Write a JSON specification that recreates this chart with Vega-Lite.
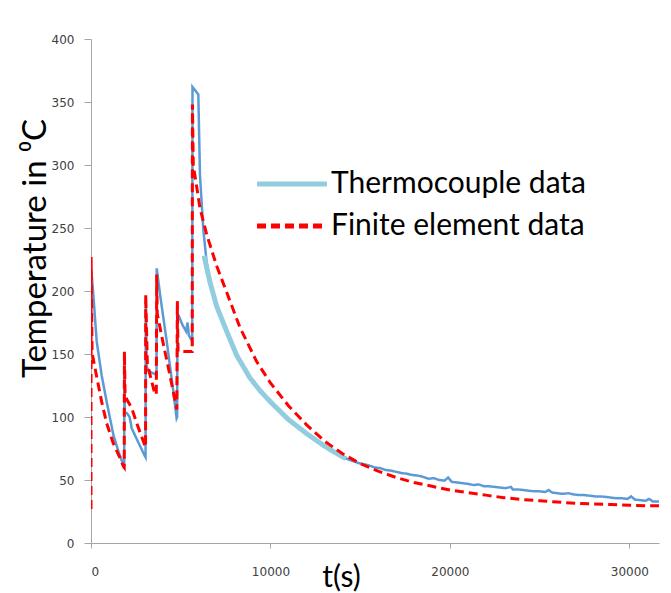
{
  "$schema": "https://vega.github.io/schema/vega-lite/v6.json",
  "width": 568,
  "height": 504,
  "autosize": {"type": "none"},
  "padding": {"left": 91, "top": 39, "right": 12, "bottom": 50},
  "background": "white",
  "config": {"view": {"stroke": null}},
  "data": {"values": [
    {"s":"raw","t":0,"T":220},{"s":"raw","t":130,"T":197},{"s":"raw","t":317,"T":160},{"s":"raw","t":595,"T":133},{"s":"raw","t":874,"T":112},{"s":"raw","t":1245,"T":86},{"s":"raw","t":1520,"T":73},{"s":"raw","t":1800,"T":62},{"s":"raw","t":1850,"T":59},{"s":"raw","t":1862,"T":150},{"s":"raw","t":1880,"T":104},{"s":"raw","t":2000,"T":103},{"s":"raw","t":2150,"T":100},{"s":"raw","t":2270,"T":91},{"s":"raw","t":2500,"T":84},{"s":"raw","t":2800,"T":75},{"s":"raw","t":3000,"T":69},{"s":"raw","t":3040,"T":68},{"s":"raw","t":3050,"T":193},{"s":"raw","t":3100,"T":140},{"s":"raw","t":3200,"T":137},{"s":"raw","t":3400,"T":135},{"s":"raw","t":3600,"T":134},{"s":"raw","t":3650,"T":132},{"s":"raw","t":3662,"T":218},{"s":"raw","t":3850,"T":197},{"s":"raw","t":4220,"T":160},{"s":"raw","t":4590,"T":120},{"s":"raw","t":4770,"T":99},{"s":"raw","t":4800,"T":100},{"s":"raw","t":4815,"T":182},{"s":"raw","t":4900,"T":180},{"s":"raw","t":5100,"T":173},{"s":"raw","t":5300,"T":168},{"s":"raw","t":5380,"T":175},{"s":"raw","t":5450,"T":165},{"s":"raw","t":5600,"T":161},{"s":"raw","t":5640,"T":160},{"s":"raw","t":5655,"T":362},{"s":"raw","t":5980,"T":356},{"s":"raw","t":6072,"T":292},{"s":"raw","t":6258,"T":249},{"s":"raw","t":6350,"T":236},{"s":"raw","t":6450,"T":222},{"s":"raw","t":6630,"T":207},{"s":"raw","t":7000,"T":188},{"s":"raw","t":7560,"T":168},{"s":"raw","t":8115,"T":149},{"s":"raw","t":8860,"T":131},{"s":"raw","t":9415,"T":121},{"s":"raw","t":10000,"T":112},{"s":"raw","t":11000,"T":98},{"s":"raw","t":12000,"T":87},{"s":"raw","t":13000,"T":77},{"s":"raw","t":14000,"T":68.5},{"s":"raw","t":14300,"T":66.5},{"s":"raw","t":14600,"T":65},{"s":"raw","t":14900,"T":63.5},{"s":"raw","t":15200,"T":62.5},{"s":"raw","t":15500,"T":61.5},{"s":"raw","t":15800,"T":60},{"s":"raw","t":16100,"T":59.5},{"s":"raw","t":16400,"T":58},{"s":"raw","t":16700,"T":57.5},{"s":"raw","t":17000,"T":56.5},{"s":"raw","t":17300,"T":55.5},{"s":"raw","t":17600,"T":55},{"s":"raw","t":17900,"T":54},{"s":"raw","t":18200,"T":53.5},{"s":"raw","t":18500,"T":52.5},{"s":"raw","t":18800,"T":51},{"s":"raw","t":19100,"T":51.5},{"s":"raw","t":19400,"T":50},{"s":"raw","t":19700,"T":49.5},{"s":"raw","t":19900,"T":52},{"s":"raw","t":20100,"T":48.5},{"s":"raw","t":20400,"T":48},{"s":"raw","t":20700,"T":47.5},{"s":"raw","t":21000,"T":47},{"s":"raw","t":21300,"T":46},{"s":"raw","t":21600,"T":46.5},{"s":"raw","t":21900,"T":45},{"s":"raw","t":22200,"T":45},{"s":"raw","t":22500,"T":44.5},{"s":"raw","t":22800,"T":44},{"s":"raw","t":23100,"T":43.5},{"s":"raw","t":23400,"T":44.5},{"s":"raw","t":23500,"T":42.5},{"s":"raw","t":23800,"T":42.5},{"s":"raw","t":24100,"T":42},{"s":"raw","t":24400,"T":41.5},{"s":"raw","t":24700,"T":41},{"s":"raw","t":25000,"T":41},{"s":"raw","t":25300,"T":40.5},{"s":"raw","t":25500,"T":42},{"s":"raw","t":25700,"T":40},{"s":"raw","t":26000,"T":39.5},{"s":"raw","t":26300,"T":39},{"s":"raw","t":26600,"T":39.5},{"s":"raw","t":26900,"T":38.5},{"s":"raw","t":27200,"T":38},{"s":"raw","t":27500,"T":38},{"s":"raw","t":27800,"T":37.5},{"s":"raw","t":28100,"T":37},{"s":"raw","t":28400,"T":37},{"s":"raw","t":28700,"T":36.5},{"s":"raw","t":29000,"T":36},{"s":"raw","t":29300,"T":35.5},{"s":"raw","t":29600,"T":35.5},{"s":"raw","t":29900,"T":35},{"s":"raw","t":30100,"T":37},{"s":"raw","t":30300,"T":34.5},{"s":"raw","t":30600,"T":34},{"s":"raw","t":30900,"T":33.5},{"s":"raw","t":31100,"T":35},{"s":"raw","t":31300,"T":33},{"s":"raw","t":31650,"T":33},
    {"s":"Thermocouple data","t":6300,"T":228},{"s":"Thermocouple data","t":6630,"T":207},{"s":"Thermocouple data","t":7000,"T":188},{"s":"Thermocouple data","t":7560,"T":168},{"s":"Thermocouple data","t":8115,"T":149},{"s":"Thermocouple data","t":8860,"T":131},{"s":"Thermocouple data","t":9415,"T":121},{"s":"Thermocouple data","t":10000,"T":112},{"s":"Thermocouple data","t":11000,"T":98},{"s":"Thermocouple data","t":12000,"T":87},{"s":"Thermocouple data","t":13000,"T":77},{"s":"Thermocouple data","t":14000,"T":68.5},{"s":"Thermocouple data","t":14200,"T":67},
    {"s":"Finite element data","t":0,"T":27},{"s":"Finite element data","t":5,"T":227},{"s":"Finite element data","t":60,"T":151},{"s":"Finite element data","t":317,"T":132},{"s":"Finite element data","t":595,"T":112},{"s":"Finite element data","t":874,"T":95},{"s":"Finite element data","t":1245,"T":79},{"s":"Finite element data","t":1600,"T":68},{"s":"Finite element data","t":1800,"T":61},{"s":"Finite element data","t":1850,"T":60},{"s":"Finite element data","t":1862,"T":152},{"s":"Finite element data","t":1900,"T":117},{"s":"Finite element data","t":1990,"T":114},{"s":"Finite element data","t":2270,"T":107},{"s":"Finite element data","t":2600,"T":93},{"s":"Finite element data","t":3010,"T":77},{"s":"Finite element data","t":3040,"T":76},{"s":"Finite element data","t":3050,"T":197},{"s":"Finite element data","t":3140,"T":142},{"s":"Finite element data","t":3565,"T":118},{"s":"Finite element data","t":3640,"T":118},{"s":"Finite element data","t":3662,"T":213},{"s":"Finite element data","t":3690,"T":182},{"s":"Finite element data","t":4000,"T":160},{"s":"Finite element data","t":4400,"T":133},{"s":"Finite element data","t":4780,"T":106},{"s":"Finite element data","t":4812,"T":192},{"s":"Finite element data","t":4850,"T":152},{"s":"Finite element data","t":5000,"T":152},{"s":"Finite element data","t":5300,"T":152},{"s":"Finite element data","t":5640,"T":152},{"s":"Finite element data","t":5652,"T":348},{"s":"Finite element data","t":5700,"T":300},{"s":"Finite element data","t":6070,"T":266},{"s":"Finite element data","t":6445,"T":245},{"s":"Finite element data","t":7000,"T":220},{"s":"Finite element data","t":7560,"T":199},{"s":"Finite element data","t":8300,"T":171},{"s":"Finite element data","t":9230,"T":144},{"s":"Finite element data","t":10000,"T":127},{"s":"Finite element data","t":11000,"T":109},{"s":"Finite element data","t":12000,"T":94},{"s":"Finite element data","t":13000,"T":81},{"s":"Finite element data","t":14000,"T":71},{"s":"Finite element data","t":15000,"T":63},{"s":"Finite element data","t":16000,"T":57},{"s":"Finite element data","t":17000,"T":52},{"s":"Finite element data","t":18000,"T":48},{"s":"Finite element data","t":19000,"T":45},{"s":"Finite element data","t":20000,"T":42},{"s":"Finite element data","t":21000,"T":40},{"s":"Finite element data","t":22000,"T":38},{"s":"Finite element data","t":23000,"T":36},{"s":"Finite element data","t":24000,"T":34.5},{"s":"Finite element data","t":25000,"T":33.5},{"s":"Finite element data","t":26000,"T":32.5},{"s":"Finite element data","t":27000,"T":31.5},{"s":"Finite element data","t":28000,"T":31},{"s":"Finite element data","t":29000,"T":30.5},{"s":"Finite element data","t":30000,"T":30},{"s":"Finite element data","t":31000,"T":29.5},{"s":"Finite element data","t":31650,"T":29.5}
  ]},
  "encoding": {
    "x": {"field": "t", "type": "quantitative",
      "scale": {"domain": [0, 31650], "nice": false, "zero": false},
      "axis": {"values": [0, 10000, 20000, 30000], "format": "d", "grid": false,
        "domainColor": "#a6a6a6", "tickColor": "#a6a6a6", "tickSize": 5,
        "labelFont": "DejaVu Sans", "labelFontSize": 12, "labelColor": "#404040", "labelPadding": 18,
        "title": "t(s)", "titleFont": "Lato", "titleFontSize": 30, "titleFontWeight": "normal", "titleColor": "#000000",
        "titleX": 250, "titleY": 43, "titleAlign": "center", "titleBaseline": "alphabetic"}},
    "y": {"field": "T", "type": "quantitative",
      "scale": {"domain": [0, 400], "nice": false},
      "axis": {"values": [0, 50, 100, 150, 200, 250, 300, 350, 400], "grid": false,
        "domainColor": "#a6a6a6", "tickColor": "#a6a6a6", "tickSize": 7,
        "labelFont": "DejaVu Sans", "labelFontSize": 12, "labelColor": "#404040", "labelPadding": 10,
        "title": "Temperature in ⁰C", "titleFont": "Lato", "titleFontSize": 33, "titleFontWeight": "normal", "titleColor": "#000000",
        "titleX": -46, "titleY": 209, "titleAngle": -90, "titleAlign": "center", "titleBaseline": "alphabetic"}},
    "color": {"field": "s", "type": "nominal",
      "scale": {"domain": ["Thermocouple data", "Finite element data", "raw"], "range": ["#92CDDF", "#FF0000", "#5B9BD5"]},
      "legend": {"values": ["Thermocouple data", "Finite element data"], "title": null, "orient": "none", "legendX": 186, "legendY": 130,
        "labelFont": "Lato", "labelFontSize": 30, "labelColor": "#000000", "labelOffset": 24, "labelLimit": 500,
        "symbolType": "M-4,0L4,0", "symbolSize": 306, "symbolStrokeWidth": 5, "rowPadding": 12, "padding": 0}},
    "strokeDash": {"field": "s", "type": "nominal",
      "scale": {"domain": ["Thermocouple data", "Finite element data", "raw"], "range": [[1, 0], [9, 5], [1, 0]]},
      "legend": {"values": ["Thermocouple data", "Finite element data"], "title": null, "orient": "none", "legendX": 186, "legendY": 130,
        "labelFont": "Lato", "labelFontSize": 30, "labelColor": "#000000", "labelOffset": 24, "labelLimit": 500,
        "symbolType": "M-4,0L4,0", "symbolSize": 306, "symbolStrokeWidth": 5, "rowPadding": 12, "padding": 0}}
  },
  "layer": [
    {"transform": [{"filter": "datum.s === 'raw'"}], "mark": {"type": "line", "strokeWidth": 2.5, "clip": true}},
    {"transform": [{"filter": "datum.s === 'Thermocouple data'"}], "mark": {"type": "line", "strokeWidth": 5, "clip": true}},
    {"transform": [{"filter": "datum.s === 'Finite element data'"}], "mark": {"type": "line", "strokeWidth": 3, "clip": true}}
  ]
}
